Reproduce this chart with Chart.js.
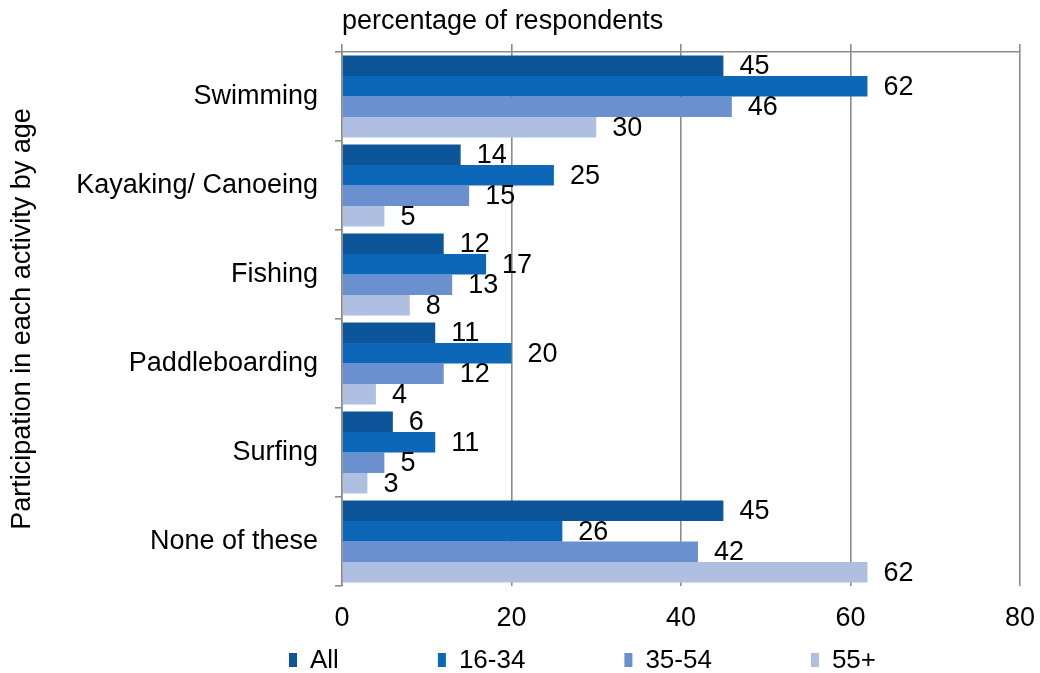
<!DOCTYPE html>
<html>
<head>
<meta charset="utf-8">
<script src="https://cdn.jsdelivr.net/npm/chart.js@4/dist/chart.umd.min.js"></script>
<style>
  html, body { margin: 0; padding: 0; background: #fff; }
  #wrap { width: 1040px; height: 673px; }
</style>
</head>
<body>
<div id="wrap"><canvas id="c" width="1040" height="673"></canvas></div>
<script>
// Activities (one group of bars per activity)
const activities = ['Swimming', 'Kayaking/ Canoeing', 'Fishing', 'Paddleboarding', 'Surfing', 'None of these'];

// Age-group series, percentage of respondents
const seriesNames = ['All', '16-34', '35-54', '55+'];
const allAges   = [45, 14, 12, 11, 6, 45];
const age16to34 = [62, 25, 17, 20, 11, 26];
const age35to54 = [46, 15, 13, 12, 5, 42];
const age55plus = [30, 5, 8, 4, 3, 62];
const seriesColors = ['#0b5598', '#0d67b9', '#6a90cf', '#aebfe2'];

// Axis ticks
const xTicks = [0, 20, 40, 60, 80];

const FONT = '"Liberation Sans", Arial, sans-serif';
const FS = 27;
const GRID = '#8c8c8c';
Chart.defaults.font.family = FONT;
Chart.defaults.font.size = FS;
Chart.defaults.color = '#000';

// Value labels written just past the end of each bar
const valueLabels = {
  id: 'valueLabels',
  afterDatasetsDraw(chart) {
    const ctx = chart.ctx;
    ctx.save();
    ctx.font = FS + 'px ' + FONT;
    ctx.fillStyle = '#000';
    ctx.textAlign = 'left';
    ctx.textBaseline = 'middle';
    chart.data.datasets.forEach((ds, di) => {
      chart.getDatasetMeta(di).data.forEach((bar, i) => {
        ctx.fillText(String(ds.data[i]), bar.x + 16, bar.y + 1);
      });
    });
    ctx.restore();
  }
};

// Legend row under the axis: small square swatch, then the series name
const swatchLegend = {
  id: 'swatchLegend',
  afterDraw(chart) {
    const ctx = chart.ctx;
    ctx.save();
    ctx.font = '26px ' + FONT;
    ctx.textBaseline = 'middle';
    ctx.textAlign = 'left';
    let x = 289;
    const yMid = 660;
    chart.data.datasets.forEach(ds => {
      ctx.fillStyle = ds.backgroundColor;
      ctx.fillRect(x, yMid - 7, 8, 14);
      ctx.fillStyle = '#000';
      ctx.fillText(ds.label, x + 21, yMid + 1);
      x += 8 + 13 + ctx.measureText(ds.label).width + 99;
    });
    ctx.restore();
  }
};

const values = [allAges, age16to34, age35to54, age55plus];

function noSidePadding(scale) {
  scale.paddingLeft = 0;
  scale.paddingRight = 0;
}

new Chart(document.getElementById('c'), {
  type: 'bar',
  data: {
    labels: activities,
    datasets: seriesNames.map((name, k) => ({
      label: name,
      data: values[k],
      backgroundColor: seriesColors[k],
      borderWidth: 0,
      categoryPercentage: 0.92,
      barPercentage: 1.0
    }))
  },
  options: {
    indexAxis: 'y',
    responsive: false,
    animation: false,
    layout: { padding: { left: 0, right: 20, top: 0, bottom: 42 } },
    plugins: {
      legend: { display: false },
      tooltip: { enabled: false }
    },
    scales: {
      x: {
        position: 'bottom',
        min: 0,
        max: 80,
        afterBuildTicks(scale) { scale.ticks = xTicks.map(v => ({ value: v })); },
        ticks: { padding: 16, font: { size: FS } },
        grid: { color: GRID, lineWidth: 1.6, drawTicks: false },
        border: { display: false },
        afterFit(scale) { noSidePadding(scale); scale.height = 45; }
      },
      xTop: {
        type: 'linear',
        position: 'top',
        axis: 'x',
        min: 0,
        max: 80,
        afterBuildTicks(scale) { scale.ticks = xTicks.map(v => ({ value: v })); },
        ticks: { display: false },
        grid: { drawOnChartArea: false, drawTicks: true, tickLength: 8, color: GRID, lineWidth: 1.6 },
        border: { display: true, color: GRID, width: 1.6 },
        title: {
          display: true,
          text: 'percentage of respondents',
          align: 'start',
          font: { size: FS },
          padding: { top: 5, bottom: 0 }
        },
        afterFit(scale) { noSidePadding(scale); scale.height = 52; }
      },
      y: {
        position: 'left',
        ticks: { padding: 17, font: { size: FS } },
        grid: { offset: true, drawOnChartArea: false, drawTicks: true, tickLength: 7, color: GRID, lineWidth: 1.6 },
        border: { display: true, color: GRID, width: 1.6 },
        title: {
          display: true,
          text: 'Participation in each activity by age',
          font: { size: FS },
          padding: { top: 6, bottom: 0 }
        },
        afterFit(scale) { scale.width = 342; }
      }
    }
  },
  plugins: [valueLabels, swatchLegend]
});
</script>
</body>
</html>
